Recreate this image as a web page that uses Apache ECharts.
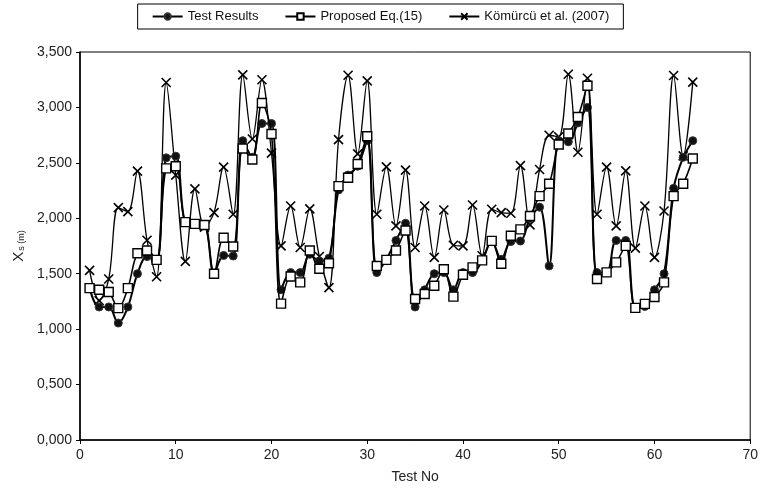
<!DOCTYPE html>
<html><head><meta charset="utf-8">
<script src="https://cdn.jsdelivr.net/npm/echarts@6/dist/echarts.min.js"></script>
<style>html,body{margin:0;padding:0;background:#fff}#c{width:761px;height:492px}</style>
</head><body><div id="c"></div>
<script>
var testNo = [];
for (var i = 1; i <= 64; i++) testNo.push(i);
var testResults = [1370,1200,1200,1055,1200,1500,1655,1630,2545,2560,1965,1950,1945,1500,1665,1660,2700,2550,2855,2855,1355,1510,1510,1675,1615,1640,2255,2390,2470,2700,1510,1630,1800,1955,1200,1355,1500,1510,1355,1510,1510,1620,1800,1630,1790,1795,2000,2100,1570,2700,2690,2860,3000,1510,1510,1800,1800,1195,1205,1355,1500,2270,2550,2700];
var proposed = [1370,1355,1335,1190,1370,1685,1710,1625,2450,2470,1965,1950,1940,1500,1825,1745,2630,2530,3040,2760,1230,1475,1422,1710,1545,1595,2290,2365,2490,2740,1570,1625,1710,1890,1272,1317,1392,1540,1293,1490,1557,1620,1796,1590,1842,1900,2020,2200,2312,2665,2765,2913,3195,1452,1512,1602,1751,1192,1228,1290,1422,2200,2312,2539];
var komurcu = [1530,1257,1452,2096,2060,2425,1802,1473,3225,2389,1611,2265,1920,2051,2461,2036,3294,2715,3250,2588,1751,2111,1737,2085,1655,1375,2710,3290,2581,3240,2036,2464,1931,2434,1737,2111,1647,2075,1757,1751,2120,1662,2081,2051,2045,2475,1940,2440,2749,2735,3299,2596,3263,2036,2461,1931,2428,1731,2111,1647,2066,3288,2563,3228];
var seriesNames = ['Test Results','Proposed Eq.(15)','Kömürcü et al. (2007)'];

function pairs(arr){ return arr.map(function(v,i){ return [testNo[i], v]; }); }
var font = 'Liberation Sans, Arial, sans-serif';
var chart = echarts.init(document.getElementById('c'));
chart.setOption({
  animation: false,
  backgroundColor: '#fff',
  legend: {
    top: 4, left: 'center',
    data: seriesNames,
    borderColor: '#000', borderWidth: 1,
    padding: [6, 14, 6, 14],
    itemGap: 26, itemWidth: 30, itemHeight: 8,
    textStyle: {fontFamily: font, fontSize: 13, color: '#111'}
  },
  grid: {left: 80, right: 9, top: 52, bottom: 52, show: true, borderColor: '#000', borderWidth: 1},
  xAxis: {
    type: 'value', min: 0, max: 70, interval: 10,
    name: 'Test No', nameLocation: 'middle', nameGap: 30,
    nameTextStyle: {fontFamily: font, fontSize: 14, color: '#222'},
    axisLine: {onZero: false, lineStyle: {color: '#000', width: 1.5}},
    axisTick: {show: true, length: 4, lineStyle: {color: '#000'}},
    axisLabel: {fontFamily: font, fontSize: 14, color: '#222', margin: 8},
    splitLine: {show: false}
  },
  yAxis: {
    type: 'value', min: 0, max: 3500, interval: 500,
    name: '{a|X}{b|s (m)}', nameLocation: 'middle', nameGap: 54, nameRotate: 90,
    nameTextStyle: {rich: {a: {fontFamily: font, fontSize: 15, color: '#222'}, b: {fontFamily: font, fontSize: 9, color: '#222', verticalAlign: 'bottom', padding: [6,0,0,1]}}},
    axisLine: {show: true, lineStyle: {color: '#000', width: 1.5}},
    axisTick: {show: true, length: 4, lineStyle: {color: '#000'}},
    axisLabel: {fontFamily: font, fontSize: 14, color: '#222', margin: 8,
      formatter: function(v){ return (v/1000).toFixed(3).replace('.', ','); }},
    splitLine: {show: false}
  },
  series: [
    {
      name: seriesNames[2], type: 'line', data: pairs(komurcu), smooth: 0.35, z: 2,
      symbol: 'path://M0,0L10,10M10,0L0,10', symbolSize: 9,
      itemStyle: {color: '#000', borderColor: '#000', borderWidth: 1.6},
      lineStyle: {color: '#000', width: 1.3}
    },
    {
      name: seriesNames[0], type: 'line', data: pairs(testResults), smooth: 0.35, z: 3,
      symbol: 'circle', symbolSize: 8,
      itemStyle: {color: '#111', borderColor: '#333', borderWidth: 1},
      lineStyle: {color: '#000', width: 2}
    },
    {
      name: seriesNames[1], type: 'line', data: pairs(proposed), smooth: 0.35, z: 4,
      symbol: 'rect', symbolSize: 9,
      itemStyle: {color: '#fff', borderColor: '#000', borderWidth: 1.4},
      lineStyle: {color: '#000', width: 1.6}
    }
  ]
});
</script></body></html>
